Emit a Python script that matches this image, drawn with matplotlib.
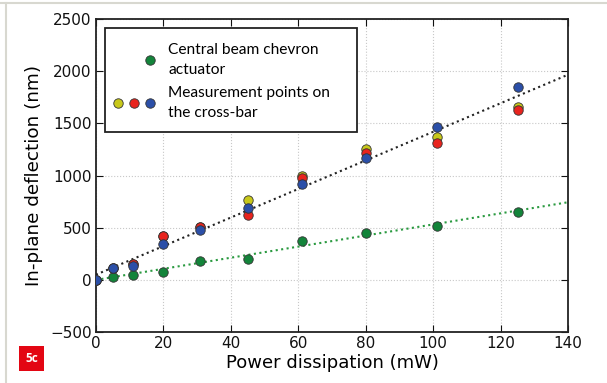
import matplotlib
matplotlib.use('Agg')
import matplotlib.pyplot as plt
from matplotlib.legend_handler import HandlerTuple
from matplotlib.lines import Line2D
from matplotlib.patches import Rectangle
import numpy as np

# power dissipation (mW)
power_mw = [0, 5, 11, 20, 31, 45, 61, 80, 101, 125]

# in-plane deflection (nm)
central_beam = [0, 30, 50, 75, 185, 205, 375, 450, 520, 655]
bar_yellow = [0, 110, 150, 420, 510, 765, 1000, 1255, 1370, 1660]
bar_red = [0, 110, 150, 420, 505, 620, 980, 1220, 1310, 1630]
bar_blue = [0, 110, 130, 345, 480, 685, 920, 1165, 1470, 1850]

# linear fits: (slope nm/mW, intercept nm)
fit_bar = (13.7, 50)
fit_beam = (5.32, 0)

GREEN = '#13843a'
YELLOW = '#c8c81a'
RED = '#e8241e'
BLUE = '#2b4fa8'

fig = plt.figure(figsize=(6.07, 3.83), dpi=100)
ax = fig.add_axes([0.158, 0.133, 0.778, 0.817])

xf = np.array([0, 140])
ax.plot(xf, fit_bar[0] * xf + fit_bar[1], ':', color='#222222', lw=1.5, zorder=2)
ax.plot(xf, fit_beam[0] * xf + fit_beam[1], ':', color='#2a9a40', lw=1.5, zorder=2)

mk = dict(marker='o', ms=6.8, ls='none', mec='#333333', mew=0.6, zorder=3)
ax.plot(power_mw, central_beam, mfc=GREEN, **mk)
ax.plot(power_mw, bar_yellow, mfc=YELLOW, **mk)
ax.plot(power_mw, bar_red, mfc=RED, **mk)
ax.plot(power_mw, bar_blue, mfc=BLUE, **mk)

ax.set_xlim(0, 140)
ax.set_ylim(-500, 2500)
ax.set_xticks(range(0, 141, 20))
ax.set_yticks(range(-500, 2501, 500))
ax.grid(True, color='#c8c8c8', ls=':', lw=0.8)
ax.set_axisbelow(True)
ax.tick_params(direction='in', top=True, right=True, length=5, width=0.8,
               labelsize=11, pad=3, colors='#111111')
for s in ax.spines.values():
    s.set_linewidth(1.3)
    s.set_color('#222222')

ax.set_xlabel('Power dissipation (mW)', fontsize=13, labelpad=2)
ax.set_ylabel('In-plane deflection (nm)', fontsize=13.2, labelpad=5)

# legend box drawn by hand so the padding can match the original
ax.add_patch(Rectangle((0.019, 0.639), 0.534, 0.332, transform=ax.transAxes,
                       fc='white', ec='#222222', lw=1.3, zorder=4.5))

# first entry padded with invisible markers so green sits in line with blue
blank = Line2D([], [], marker='o', ms=6.8, ls='none', mfc='none', mec='none')
h1 = Line2D([], [], mfc=GREEN, **mk)
hy = Line2D([], [], mfc=YELLOW, **mk)
hr = Line2D([], [], mfc=RED, **mk)
hb = Line2D([], [], mfc=BLUE, **mk)
leg = ax.legend([(blank, blank, h1), (hy, hr, hb)],
                ['Central beam chevron\nactuator', 'Measurement points on\nthe cross-bar'],
                handler_map={tuple: HandlerTuple(ndivide=None, pad=0.35)},
                loc='upper left', bbox_to_anchor=(0.019, 0.949), borderaxespad=0,
                frameon=False, handlelength=2.75, handletextpad=0.85,
                borderpad=0.48, labelspacing=0.6,
                prop={'family': 'Lato', 'size': 11.2})
for t in leg.get_texts():
    t.set_linespacing(1.55)

# red panel tag
fig.text(0.052, 0.064, '5c', color='white', fontsize=8.5, fontweight='bold',
         ha='center', va='center', family='Open Sans',
         bbox=dict(boxstyle='square,pad=0.5', fc='#e30613', ec='none'))

# light page border top and left
fig.add_artist(Line2D([0.0, 1.0], [0.992, 0.992], color='#d8d8d0', lw=1.5))
fig.add_artist(Line2D([0.01, 0.01], [0.0, 0.992], color='#d8d8d0', lw=1.5))

fig.savefig('out.png', dpi=100)
